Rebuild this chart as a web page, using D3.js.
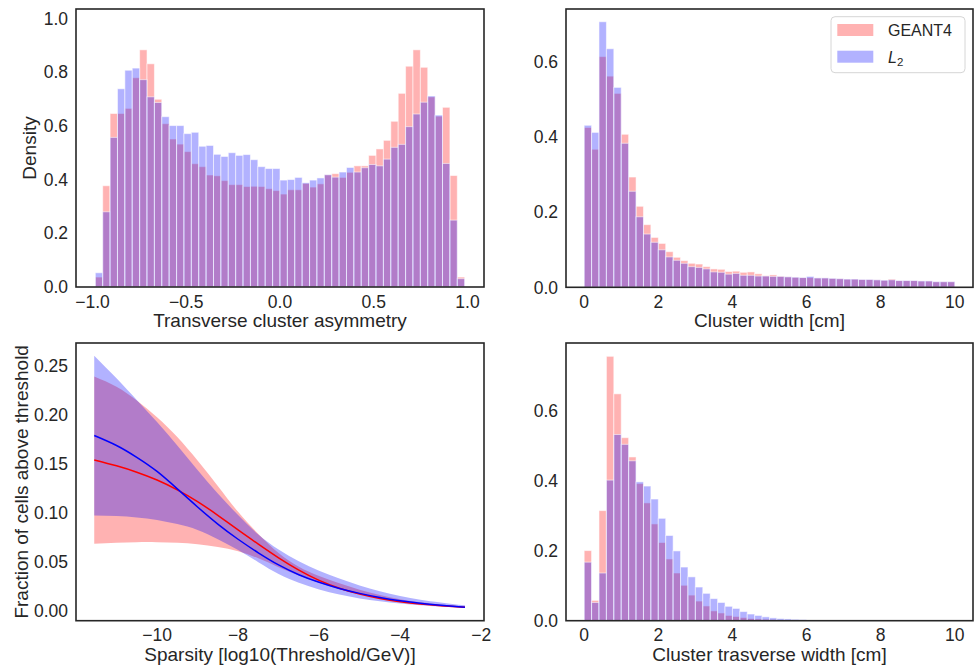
<!DOCTYPE html>
<meta charset="utf-8">
<script src="https://d3js.org/d3.v7.min.js"></script>
<style>
  body { margin: 0; background: #fff; }
  text { font-family: "Liberation Sans", Arial, sans-serif; fill: #262626; }
</style>
<div id="chart"></div>
<script>
// ---- data ----
// transverse cluster asymmetry, 50 bins between -0.985 and 0.985
const asymEdges = [-0.985, 0.985];
const asymGeant = [0.037,0.377,0.646,0.646,0.665,0.779,0.883,0.831,0.699,0.608,
  0.551,0.532,0.504,0.459,0.448,0.417,0.414,0.396,0.381,0.381,
  0.374,0.375,0.374,0.366,0.359,0.346,0.362,0.362,0.386,0.372,
  0.384,0.418,0.422,0.408,0.427,0.451,0.451,0.490,0.514,0.546,
  0.617,0.721,0.822,0.883,0.818,0.708,0.636,0.669,0.415,0.037];
const asymL2 = [0.053,0.280,0.557,0.738,0.807,0.815,0.772,0.708,0.687,0.634,
  0.601,0.601,0.571,0.576,0.524,0.527,0.494,0.486,0.500,0.490,
  0.493,0.474,0.448,0.441,0.441,0.398,0.400,0.408,0.388,0.398,
  0.406,0.418,0.409,0.428,0.445,0.428,0.444,0.456,0.451,0.476,
  0.520,0.531,0.597,0.644,0.688,0.711,0.640,0.460,0.249,0.031];

// cluster width, 50 bins between 0 and 10 cm
const widthEdges = [0, 10];
const widthGeant = [0.426,0.368,0.615,0.563,0.517,0.408,0.294,0.216,0.167,0.133,
  0.117,0.095,0.080,0.071,0.064,0.062,0.055,0.049,0.048,0.042,
  0.043,0.040,0.041,0.036,0.031,0.033,0.030,0.028,0.027,0.026,
  0.026,0.025,0.025,0.024,0.023,0.022,0.022,0.021,0.021,0.020,
  0.019,0.022,0.018,0.018,0.018,0.017,0.017,0.015,0.015,0.015];
const widthL2 = [0.432,0.413,0.708,0.636,0.533,0.384,0.256,0.188,0.142,0.120,
  0.100,0.081,0.072,0.064,0.055,0.053,0.049,0.041,0.040,0.035,
  0.037,0.032,0.032,0.030,0.030,0.029,0.029,0.028,0.027,0.026,
  0.029,0.025,0.025,0.024,0.023,0.022,0.022,0.021,0.021,0.020,
  0.019,0.020,0.018,0.018,0.018,0.017,0.017,0.015,0.015,0.015];

// cluster trasverse width, 50 bins between 0 and 10 cm
const transEdges = [0, 10];
const transGeant = [0.200,0.058,0.314,0.754,0.647,0.522,0.467,0.391,0.336,0.276,
  0.223,0.176,0.136,0.101,0.073,0.056,0.042,0.028,0.022,0.015,
  0.012,0.009,0.006,0.005,0.004,0.003,0.002,0.002,0.001,0.001,
  0.001,0.001,0,0,0,0,0,0,0,0, 0,0,0,0,0,0,0,0,0,0];
const transL2 = [0.167,0.052,0.136,0.401,0.531,0.503,0.456,0.396,0.384,0.347,
  0.292,0.243,0.199,0.153,0.125,0.096,0.078,0.063,0.052,0.041,
  0.035,0.026,0.019,0.015,0.011,0.008,0.006,0.005,0.004,0.003,
  0.002,0.002,0.001,0.001,0.001,0,0,0,0,0, 0,0,0,0,0,0,0,0,0,0];

// sparsity curves (mean and band edges)
const sparsX = [-11.55,-11,-10.5,-10,-9.5,-9,-8.5,-8,-7.5,-7,-6.5,-6,-5.5,-5,-4.5,-4,-3.5,-3,-2.4];
const geantMean = [0.154,0.148,0.1415,0.1335,0.1235,0.1115,0.0975,0.0825,0.068,0.054,0.0415,0.031,0.023,0.017,0.0125,0.0092,0.0068,0.0051,0.0035];
const geantHi   = [0.2392,0.2287,0.2147,0.1977,0.1775,0.1535,0.1275,0.101,0.0785,0.059,0.045,0.0355,0.028,0.0215,0.016,0.0118,0.0087,0.0064,0.0042];
const geantLo   = [0.0684,0.0694,0.070,0.070,0.0694,0.068,0.0652,0.0608,0.0535,0.0445,0.036,0.0285,0.022,0.0168,0.0127,0.0095,0.007,0.0052,0.0033];
const l2Mean = [0.179,0.1688,0.1567,0.1423,0.1245,0.106,0.0885,0.073,0.0592,0.0468,0.0368,0.029,0.0227,0.0177,0.0135,0.0102,0.0076,0.0056,0.0035];
const l2Hi   = [0.2606,0.2374,0.2152,0.1927,0.1687,0.1437,0.1197,0.0977,0.0779,0.0625,0.0505,0.0408,0.0328,0.0258,0.0198,0.015,0.0113,0.0085,0.0055];
const l2Lo   = [0.0973,0.0967,0.0953,0.0927,0.0885,0.0825,0.073,0.062,0.0495,0.0375,0.0285,0.0218,0.0166,0.0126,0.0096,0.0073,0.0056,0.0043,0.0028];

const tickFont = 17.5, labelFont = 19;

const svg = d3.select("#chart").append("svg")
  .attr("width", 975).attr("height", 667);

// panel boxes [left, top, right, bottom]
const boxes = {
  asym:  [76, 9, 484, 287],
  width: [566, 9, 973, 287.3],
  spars: [76, 343, 484, 620.7],
  trans: [566, 343, 973, 620.7]
};

const fmtMinus = f => (d => f(d).replace("-", "\u2212"));

function panel(box, xdom, ydom, xticks, yticks, xfmt, yfmt, xlabel, ylabel, ylabX) {
  const [l, t, r, b] = box;
  const x = d3.scaleLinear().domain(xdom).range([l, r]);
  const y = d3.scaleLinear().domain(ydom).range([b, t]);
  const g = svg.append("g");
  const marks = g.append("g");
  // tick labels (no tick marks in this style)
  g.selectAll("text.xt").data(xticks).join("text")
    .attr("class", "xt")
    .attr("x", d => x(d)).attr("y", b + 20.5)
    .attr("text-anchor", "middle").style("font-size", tickFont + "px")
    .text(fmtMinus(xfmt));
  g.selectAll("text.yt").data(yticks).join("text")
    .attr("class", "yt")
    .attr("x", l - 8).attr("y", d => y(d) + 6.2)
    .attr("text-anchor", "end").style("font-size", tickFont + "px")
    .text(fmtMinus(yfmt));
  g.append("text")
    .attr("x", (l + r) / 2).attr("y", b + 40)
    .attr("text-anchor", "middle").style("font-size", labelFont + "px")
    .text(xlabel);
  if (ylabel) {
    g.append("text")
      .attr("transform", `translate(${ylabX},${(t + b) / 2}) rotate(-90)`)
      .attr("text-anchor", "middle").style("font-size", labelFont + "px")
      .text(ylabel);
  }
  g.append("rect")
    .attr("x", l).attr("y", t).attr("width", r - l).attr("height", b - t)
    .attr("fill", "none").attr("stroke", "#262626").attr("stroke-width", 1.6);
  return {x, y, marks};
}

function hist(p, edges, values, color) {
  const w = (edges[1] - edges[0]) / values.length;
  p.marks.append("g").selectAll("rect").data(values).join("rect")
    .attr("x", (d, i) => p.x(edges[0] + i * w))
    .attr("width", (d, i) => p.x(edges[0] + (i + 1) * w) - p.x(edges[0] + i * w))
    .attr("y", d => p.y(d))
    .attr("height", d => p.y(0) - p.y(d))
    .attr("fill", color).attr("fill-opacity", 0.3)
    .attr("stroke", "#fff").attr("stroke-width", 1).attr("stroke-opacity", 0.55);
}

// top left
const p1 = panel(boxes.asym, [-1.088, 1.088], [0, 1.035],
  [-1, -0.5, 0, 0.5, 1], [0, 0.2, 0.4, 0.6, 0.8, 1.0],
  d3.format(".1f"), d3.format(".1f"), "Transverse cluster asymmetry", "Density", 36);
hist(p1, asymEdges, asymGeant, "red");
hist(p1, asymEdges, asymL2, "blue");

// top right
const p2 = panel(boxes.width, [-0.49, 10.49], [0, 0.742],
  [0, 2, 4, 6, 8, 10], [0, 0.2, 0.4, 0.6],
  d3.format("d"), d3.format(".1f"), "Cluster width [cm]", null);
hist(p2, widthEdges, widthGeant, "red");
hist(p2, widthEdges, widthL2, "blue");

// bottom left
const p3 = panel(boxes.spars, [-12.0, -1.93], [-0.0102, 0.2735],
  [-10, -8, -6, -4, -2], [0, 0.05, 0.10, 0.15, 0.20, 0.25],
  d3.format("d"), d3.format(".2f"), "Sparsity [log10(Threshold/GeV)]",
  "Fraction of cells above threshold", 27.5);
const idx = d3.range(sparsX.length);
const band = (lo, hi) => d3.area().curve(d3.curveNatural)
  .x(i => p3.x(sparsX[i])).y0(i => p3.y(lo[i])).y1(i => p3.y(hi[i]));
const line = m => d3.line().curve(d3.curveNatural)
  .x(i => p3.x(sparsX[i])).y(i => p3.y(m[i]));
p3.marks.append("path").attr("d", band(geantLo, geantHi)(idx))
  .attr("fill", "red").attr("fill-opacity", 0.3);
p3.marks.append("path").attr("d", band(l2Lo, l2Hi)(idx))
  .attr("fill", "blue").attr("fill-opacity", 0.3);
p3.marks.append("path").attr("d", line(geantMean)(idx))
  .attr("fill", "none").attr("stroke", "red").attr("stroke-width", 1.5);
p3.marks.append("path").attr("d", line(l2Mean)(idx))
  .attr("fill", "none").attr("stroke", "blue").attr("stroke-width", 1.5);

// bottom right
const p4 = panel(boxes.trans, [-0.49, 10.49], [0, 0.792],
  [0, 2, 4, 6, 8, 10], [0, 0.2, 0.4, 0.6],
  d3.format("d"), d3.format(".1f"), "Cluster trasverse width [cm]", null);
hist(p4, transEdges, transGeant, "red");
hist(p4, transEdges, transL2, "blue");

// legend in the top right panel
const leg = svg.append("g");
leg.append("rect").attr("x", 831).attr("y", 16.7).attr("width", 134).attr("height", 56)
  .attr("rx", 4).attr("fill", "#fff").attr("fill-opacity", 0.8)
  .attr("stroke", "#d6d6d6").attr("stroke-width", 1);
const entries = [{color: "red", y: 24}, {color: "blue", y: 50.7}];
leg.selectAll("rect.sw").data(entries).join("rect").attr("class", "sw")
  .attr("x", 837.3).attr("y", d => d.y).attr("width", 36).attr("height", 12)
  .attr("fill", d => d.color).attr("fill-opacity", 0.3);
leg.append("text").attr("x", 888).attr("y", 35.8).style("font-size", "16px").text("GEANT4");
const l2t = leg.append("text").attr("x", 888).attr("y", 62.5).style("font-size", "16px");
l2t.append("tspan").style("font-style", "italic").text("L");
l2t.append("tspan").attr("dy", 3.5).style("font-size", "11.5px").text("2");
</script>
